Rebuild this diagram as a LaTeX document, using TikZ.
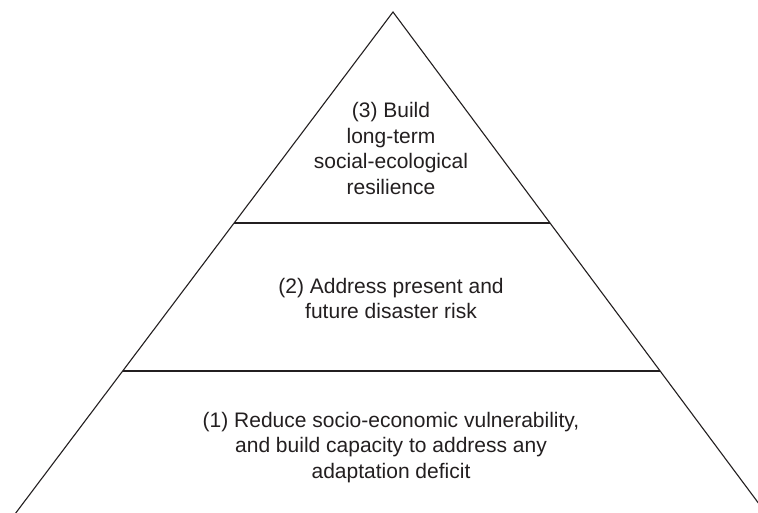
\documentclass[tikz,border=0pt]{standalone}
\usepackage{fontspec}
\setmainfont{Liberation Sans}
\definecolor{ink}{RGB}{35,31,32}
\begin{document}
\begin{tikzpicture}[x=1pt,y=-1pt,
  side/.style={draw=ink,line width=1.1pt},
  tier/.style={draw=ink,line width=2pt},
  label/.style={text=ink,align=center,inner sep=0pt,font=\fontsize{21}{25.5}\selectfont}]
\useasboundingbox (0,0) rectangle (758,513);
\clip (0,0) rectangle (758,513);
\fill[white] (0,0) rectangle (758,513);
\coordinate (apex) at (393,12);
\coordinate (bl) at (10.5,520);
\coordinate (br) at (771,520);
\coordinate (l2) at (233.9,223.3);
\coordinate (r2) at (550.2,223.3);
\coordinate (l1) at (122.7,371);
\coordinate (r1) at (660.1,371);
\draw[side] (bl) -- (apex) -- (br);
\draw[tier] (l2) -- (r2);
\draw[tier] (l1) -- (r1);
\node[label] (t3) at (391,148.6) {(3) Build\\long-term\\social-ecological\\resilience};
\node[label] (t2) at (391,298.6) {(2) Address present and\\future disaster risk};
\node[label] (t1) at (391,447.3) {(1) Reduce socio-economic vulnerability,\\and build capacity to address any\\adaptation deficit};
\end{tikzpicture}
\end{document}
